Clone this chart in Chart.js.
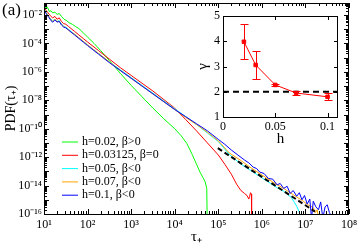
<!DOCTYPE html>
<html>
<head>
<meta charset="utf-8">
<script src="https://cdn.jsdelivr.net/npm/chart.js@4.4.0/dist/chart.umd.min.js"></script>
<style>
  html, body { margin: 0; padding: 0; background: #fff; overflow: hidden; }
  #wrap { position: relative; width: 357px; height: 247px; }
  #chartPdf { position: absolute; left: 0; top: 0; }
  #chartGamma { position: absolute; left: 190px; top: 0; }
  #panel { position: absolute; left: 2px; top: 0px; font: 17px "Liberation Serif", serif; color: #000; }
</style>
</head>
<body>
<div id="wrap">
  <canvas id="chartPdf" width="357" height="247"></canvas>
  <canvas id="chartGamma" width="160" height="150"></canvas>
  <div id="panel">(a)</div>
</div>
<script>
// data main panel (log10 values)
const greenLogTau = [1.0, 1.04, 1.08, 1.12, 1.16, 1.2, 1.25, 1.3, 1.35, 1.4, 1.46, 1.52, 1.58, 1.65, 1.72, 1.8, 1.9, 2.0, 2.15, 2.3, 2.5, 2.75, 3.0, 3.25, 3.5, 3.75, 4.0, 4.15, 4.28, 4.4, 4.5, 4.58, 4.65, 4.7, 4.735, 4.745];
const greenLogPdf = [-1.3, -1.5, -1.45, -1.75, -1.7, -1.85, -1.8, -1.95, -1.9, -2.1, -2.3, -2.4, -2.55, -2.65, -2.8, -2.95, -3.25, -3.55, -4.0, -4.5, -5.2, -6.1, -6.95, -7.75, -8.55, -9.3, -10.0, -10.5, -11.05, -11.8, -12.5, -13.05, -13.45, -13.75, -14.2, -16.3];

const redLogTau = [1.0, 1.04, 1.08, 1.12, 1.16, 1.2, 1.25, 1.3, 1.35, 1.4, 1.45, 1.5, 1.56, 1.62, 1.7, 1.8, 1.9, 2.0, 2.25, 2.5, 2.75, 3.0, 3.25, 3.5, 3.75, 4.0, 4.25, 4.5, 4.75, 5.0, 5.15, 5.3, 5.42, 5.52, 5.6, 5.66, 5.7, 5.72, 5.74, 5.76, 5.765];
const redLogPdf = [-1.5, -1.65, -1.8, -1.95, -2.1, -2.2, -2.1, -2.3, -2.2, -2.45, -2.6, -2.65, -2.8, -2.95, -3.15, -3.4, -3.65, -3.9, -4.5, -5.1, -5.7, -6.25, -6.8, -7.35, -7.95, -8.55, -9.35, -10.15, -11.0, -11.85, -12.5, -13.2, -13.9, -14.35, -14.55, -14.7, -14.95, -14.75, -14.5, -14.6, -16.3];

const cyanLogTau = [1.0, 1.04, 1.08, 1.12, 1.16, 1.2, 1.25, 1.3, 1.35, 1.4, 1.45, 1.5, 1.56, 1.62, 1.7, 1.8, 1.9, 2.0, 2.25, 2.5, 2.75, 3.0, 3.25, 3.5, 3.75, 4.0, 4.25, 4.5, 4.75, 5.0,
  5.25, 5.5, 5.75, 6.0, 6.2, 6.35, 6.5, 6.6, 6.68, 6.75, 6.8, 6.85, 6.9];
const cyanLogPdf = [-1.55, -1.8, -1.95, -2.15, -2.3, -2.4, -2.3, -2.45, -2.4, -2.6, -2.8, -2.85, -3.0, -3.15, -3.35, -3.6, -3.85, -4.1, -4.7, -5.3, -5.85, -6.4, -6.95, -7.5, -8.05, -8.6, -9.15, -9.7, -10.3, -10.9,
  -11.8, -12.45, -12.95, -13.45, -13.85, -14.15, -14.4, -14.65, -14.85, -15.2, -15.45, -15.8, -16.3];

const orangeLogTau = [1.0, 1.04, 1.08, 1.12, 1.16, 1.2, 1.25, 1.3, 1.35, 1.4, 1.45, 1.5, 1.56, 1.62, 1.7, 1.8, 1.9, 2.0, 2.25, 2.5, 2.75, 3.0, 3.25, 3.5, 3.75, 4.0, 4.25, 4.5, 4.75, 5.0,
  5.25, 5.5, 5.75, 6.0, 6.25, 6.5, 6.7, 6.85, 6.95, 7.05, 7.12, 7.18, 7.23, 7.27, 7.3];
const orangeLogPdf = [-1.6, -1.8, -2.0, -2.15, -2.35, -2.45, -2.3, -2.45, -2.45, -2.65, -2.8, -2.9, -3.05, -3.2, -3.35, -3.6, -3.85, -4.1, -4.7, -5.3, -5.9, -6.45, -7.0, -7.55, -8.1, -8.65, -9.2, -9.7, -10.25, -10.85,
  -11.7, -12.2, -12.75, -13.25, -13.75, -14.2, -14.6, -14.9, -15.1, -15.35, -15.45, -15.55, -15.9, -15.7, -16.3];

const blueLogTau = [1.0, 1.04, 1.08, 1.12, 1.16, 1.2, 1.25, 1.3, 1.35, 1.4, 1.45, 1.5, 1.56, 1.62, 1.7, 1.8, 1.9, 2.0, 2.25, 2.5, 2.75, 3.0, 3.25, 3.5, 3.75, 4.0, 4.25, 4.5, 4.75, 5.0,
  5.15, 5.3, 5.45, 5.6, 5.7, 5.8, 5.88, 5.95, 6.05, 6.15, 6.25, 6.35, 6.42, 6.5, 6.58, 6.65, 6.72, 6.8, 6.86, 6.92, 6.98, 7.04, 7.1, 7.14, 7.18, 7.24, 7.3, 7.35, 7.4, 7.45, 7.5, 7.55, 7.62];
const blueLogPdf = [-1.65, -1.85, -2.05, -2.2, -2.4, -2.5, -2.35, -2.5, -2.45, -2.7, -2.85, -2.9, -3.05, -3.2, -3.4, -3.65, -3.9, -4.15, -4.75, -5.35, -5.9, -6.45, -7.0, -7.55, -8.1, -8.65, -9.15, -9.65, -10.15, -10.75,
  -11.1, -11.5, -11.85, -12.2, -12.4, -12.7, -12.8, -13.05, -13.15, -13.5, -13.55, -13.95, -13.85, -14.2, -14.05, -14.55, -14.35, -14.75, -14.5, -15.0, -14.7, -15.3, -14.95, -16.3, -15.1, -15.5, -15.7, -15.15, -16.3, -15.5, -15.35, -15.9, -16.3];

const fitLogTau = [4.99, 7.22];
const fitLogPdf = [-11.37, -15.83];

const curveLabels = ["h=0.02, \u03b2>0", "h=0.03125, \u03b2=0", "h=0.05, \u03b2<0", "h=0.07, \u03b2<0", "h=0.1, \u03b2<0"];
const curveColors = ["#00ff00", "#ff0000", "#00ffff", "#ffa500", "#0000ff"];

const xLabelExps = [1, 2, 3, 4, 5, 6, 7, 8];
const yLabelExps = [-16, -14, -12, -10, -8, -6, -4, -2];

// data inset
const hVals = [0.02, 0.03125, 0.05, 0.07, 0.1];
const gammaVals = [3.98, 3.06, 2.27, 1.95, 1.8];
const gammaErr = [0.69, 0.57, 0.05, 0.08, 0.14];
const gammaRef = 2;
const hTicks = [0, 0.05, 0.1];
const gammaTicks = [1, 2, 3, 4, 5];

const SERIF = '"Liberation Serif", "Times New Roman", serif';
const SUP = { "0": "\u2070", "1": "\u00b9", "2": "\u00b2", "3": "\u00b3", "4": "\u2074", "5": "\u2075", "6": "\u2076", "7": "\u2077", "8": "\u2078", "9": "\u2079", "-": "\u207b" };

function pow10Label(e) {
  return "10" + String(e).split("").map(c => SUP[c]).join("");
}

function toPoints(lx, ly) {
  return lx.map((v, i) => ({ x: Math.pow(10, v), y: Math.pow(10, ly[i]) }));
}

function decadeOf(v) {
  const e = Math.log10(v);
  const r = Math.round(e);
  return Math.abs(e - r) < 1e-6 ? r : null;
}

function logTicks(eFrom, eTo, max) {
  const t = [];
  for (let e = eFrom; e <= eTo; e++) {
    for (let m = 1; m <= 9; m++) {
      const v = m * Math.pow(10, e);
      if (v <= max * 1.0001) t.push({ value: v });
    }
  }
  return t;
}

// box around the plot area with inward ticks on all four sides
const boxTicks = {
  id: "boxTicks",
  afterDraw(chart, args, opts) {
    const { ctx, chartArea: a } = chart;
    const xs = chart.scales.x, ys = chart.scales.y;
    ctx.save();
    ctx.strokeStyle = "#000";
    ctx.lineWidth = 1;
    ctx.beginPath();
    xs.ticks.forEach(t => {
      const major = opts.log ? decadeOf(t.value) !== null : true;
      const len = major ? opts.major : opts.minor;
      const px = Math.round(xs.getPixelForValue(t.value)) + 0.5;
      if (px < a.left || px > a.right + 1) return;
      ctx.moveTo(px, a.bottom); ctx.lineTo(px, a.bottom - len);
      ctx.moveTo(px, a.top); ctx.lineTo(px, a.top + len);
    });
    ys.ticks.forEach(t => {
      const major = opts.log ? decadeOf(t.value) !== null : true;
      const len = major ? opts.major : opts.minor;
      const py = Math.round(ys.getPixelForValue(t.value)) + 0.5;
      if (py < a.top || py > a.bottom + 1) return;
      ctx.moveTo(a.left, py); ctx.lineTo(a.left + len, py);
      ctx.moveTo(a.right, py); ctx.lineTo(a.right - len, py);
    });
    ctx.stroke();
    ctx.strokeRect(a.left + 0.5, a.top + 0.5, a.right - a.left - 1, a.bottom - a.top);
    ctx.restore();
  }
};

// legend drawn inside the plot
const curveLegend = {
  id: "curveLegend",
  afterDraw(chart, args, opts) {
    const ctx = chart.ctx;
    ctx.save();
    ctx.font = "12px " + SERIF;
    ctx.textBaseline = "middle";
    ctx.textAlign = "left";
    curveLabels.forEach((lab, i) => {
      const y = opts.top + i * opts.step;
      ctx.strokeStyle = curveColors[i];
      ctx.lineWidth = 1;
      ctx.beginPath();
      ctx.moveTo(opts.x0, y);
      ctx.lineTo(opts.x1, y);
      ctx.stroke();
      ctx.fillStyle = "#000";
      ctx.fillText(lab, opts.textX, y);
    });
    ctx.restore();
  }
};

// error bars for the inset
const errorBars = {
  id: "errorBars",
  afterDatasetsDraw(chart) {
    const ctx = chart.ctx;
    const xs = chart.scales.x, ys = chart.scales.y;
    ctx.save();
    ctx.strokeStyle = "#ff0000";
    ctx.lineWidth = 1;
    ctx.beginPath();
    hVals.forEach((h, i) => {
      const px = Math.round(xs.getPixelForValue(h)) + 0.5;
      const top = Math.round(ys.getPixelForValue(gammaVals[i] + gammaErr[i])) + 0.5;
      const bot = Math.round(ys.getPixelForValue(gammaVals[i] - gammaErr[i])) + 0.5;
      ctx.moveTo(px, top); ctx.lineTo(px, bot);
      ctx.moveTo(px - 4, top); ctx.lineTo(px + 4, top);
      ctx.moveTo(px - 4, bot); ctx.lineTo(px + 4, bot);
    });
    ctx.stroke();
    ctx.restore();
  }
};

const curveData = [
  [greenLogTau, greenLogPdf],
  [redLogTau, redLogPdf],
  [cyanLogTau, cyanLogPdf],
  [orangeLogTau, orangeLogPdf],
  [blueLogTau, blueLogPdf]
];

const datasets = curveData.map((c, i) => ({
  label: curveLabels[i],
  data: toPoints(c[0], c[1]),
  borderColor: curveColors[i],
  borderWidth: 1,
  pointRadius: 0,
  fill: false,
  order: 5 - i
}));
datasets.push({
  label: "fit",
  data: toPoints(fitLogTau, fitLogPdf),
  borderColor: "#000",
  borderWidth: 2,
  borderDash: [5, 3],
  pointRadius: 0,
  fill: false,
  order: 0
});

const Y_MAX = 0.07;

new Chart(document.getElementById("chartPdf"), {
  type: "line",
  data: { datasets },
  options: {
    responsive: false,
    animation: false,
    devicePixelRatio: 1,
    layout: { padding: { top: 3, right: 8, left: 0, bottom: 0 } },
    plugins: {
      legend: { display: false },
      tooltip: { enabled: false },
      boxTicks: { log: true, major: 5, minor: 3 },
      curveLegend: { x0: 62, x1: 78, textX: 82, top: 142, step: 13.3 }
    },
    scales: {
      x: {
        type: "logarithmic",
        min: 10,
        max: 1e8,
        grid: { display: false, drawTicks: false },
        border: { display: false },
        afterBuildTicks: s => { s.ticks = logTicks(1, 8, 1e8); },
        afterFit: s => { s.height = 33; s.paddingLeft = 0; s.paddingRight = 0; },
        ticks: {
          autoSkip: false,
          maxRotation: 0,
          padding: 4,
          color: "#000",
          font: { family: SERIF, size: 12 },
          callback: v => {
            const e = decadeOf(v);
            return e !== null && xLabelExps.includes(e) ? pow10Label(e) : "";
          }
        },
        title: {
          display: true,
          text: "\u03c4\u208a",
          color: "#000",
          font: { family: SERIF, size: 15 },
          padding: { top: 0, bottom: 1 }
        }
      },
      y: {
        type: "logarithmic",
        min: 1e-16,
        max: Y_MAX,
        grid: { display: false, drawTicks: false },
        border: { display: false },
        afterBuildTicks: s => { s.ticks = logTicks(-16, -2, Y_MAX); },
        afterFit: s => { s.width = 44; s.paddingTop = 0; s.paddingBottom = 0; },
        ticks: {
          autoSkip: false,
          padding: 2,
          color: "#000",
          font: { family: SERIF, size: 12 },
          callback: v => {
            const e = decadeOf(v);
            return e !== null && yLabelExps.includes(e) ? pow10Label(e) : "";
          }
        },
        title: {
          display: true,
          text: "PDF(\u03c4\u208a)",
          color: "#000",
          font: { family: SERIF, size: 14 },
          padding: { top: 3, bottom: 0 }
        }
      }
    }
  },
  plugins: [boxTicks, curveLegend]
});

// inset: gamma vs h
new Chart(document.getElementById("chartGamma"), {
  type: "line",
  data: {
    datasets: [
      {
        label: "gamma",
        data: hVals.map((h, i) => ({ x: h, y: gammaVals[i] })),
        borderColor: "#ff0000",
        backgroundColor: "#ff0000",
        borderWidth: 1,
        pointStyle: "rect",
        pointRadius: 2.5,
        fill: false,
        order: 0
      },
      {
        label: "ref",
        data: [{ x: 0, y: gammaRef }, { x: 0.11, y: gammaRef }],
        borderColor: "#000",
        borderWidth: 2,
        borderDash: [6, 4],
        pointRadius: 0,
        fill: false,
        order: 1
      }
    ]
  },
  options: {
    responsive: false,
    animation: false,
    devicePixelRatio: 1,
    layout: { padding: { top: 16, right: 12, left: 0, bottom: 0 } },
    plugins: {
      legend: { display: false },
      tooltip: { enabled: false },
      boxTicks: { log: false, major: 4, minor: 2 }
    },
    scales: {
      x: {
        type: "linear",
        min: 0,
        max: 0.11,
        grid: { display: false, drawTicks: false },
        border: { display: false },
        afterBuildTicks: s => { s.ticks = hTicks.map(v => ({ value: v })); },
        afterFit: s => { s.height = 33; s.paddingLeft = 0; s.paddingRight = 0; },
        ticks: {
          autoSkip: false,
          maxRotation: 0,
          padding: 3,
          color: "#000",
          font: { family: SERIF, size: 12 },
          callback: v => String(v)
        },
        title: {
          display: true,
          text: "h",
          color: "#000",
          font: { family: SERIF, size: 15 },
          padding: { top: 0, bottom: 2 }
        }
      },
      y: {
        type: "linear",
        min: 1,
        max: 5,
        grid: { display: false, drawTicks: false },
        border: { display: false },
        afterBuildTicks: s => { s.ticks = gammaTicks.map(v => ({ value: v })); },
        afterFit: s => { s.width = 33; s.paddingTop = 0; s.paddingBottom = 0; },
        ticks: {
          autoSkip: false,
          padding: 3,
          color: "#000",
          font: { family: SERIF, size: 12 },
          callback: v => String(v)
        },
        title: {
          display: true,
          text: "\u03b3",
          color: "#000",
          font: { family: SERIF, size: 15 },
          padding: { top: 4, bottom: 0 }
        }
      }
    }
  },
  plugins: [boxTicks, errorBars]
});
</script>
</body>
</html>
